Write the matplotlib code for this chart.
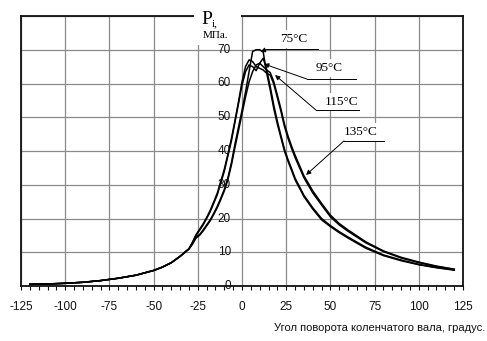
import matplotlib
matplotlib.use("Agg")
import matplotlib.pyplot as plt
from matplotlib.patches import Rectangle
from matplotlib.ticker import MultipleLocator

plt.rcParams["font.family"] = ["Liberation Sans", "DejaVu Sans"]
plt.rcParams["axes.unicode_minus"] = False

# crank angle, degrees
angle = [-120, -110, -100, -90, -80, -70, -60, -50, -45, -40, -35, -30,
         -28, -26, -24, -22, -20, -18, -16, -14, -12, -10, -8, -6, -4, -2,
         0, 2, 4, 6, 8, 10, 12, 14, 16, 18, 20, 22, 24, 26, 28, 30,
         35, 40, 45, 50, 55, 60, 70, 80, 90, 100, 110, 120]

# indicated pressure, MPa, per coolant temperature
p75 = [0.5, 0.6, 0.8, 1.1, 1.6, 2.3, 3.2, 4.6, 5.6, 6.9, 8.8, 11.0,
       12.6, 14.6, 15.2, 16.6, 18.1, 19.6, 21.5, 23.6, 26.0, 28.6, 32.0, 36.5, 42.0, 47.0,
       52.0, 57.5, 63.5, 69.5, 70.0, 70.0, 69.3, 63.0, 58.0, 52.5, 48.0, 44.0, 40.0, 37.0, 34.3, 31.5,
       26.5, 22.8, 19.6, 17.6, 15.8, 14.2, 11.2, 9.0, 7.5, 6.3, 5.4, 4.7]
p95 = [0.5, 0.6, 0.8, 1.1, 1.6, 2.3, 3.2, 4.6, 5.6, 6.9, 8.8, 11.0,
       12.8, 15.0, 16.5, 18.1, 20.0, 22.0, 24.5, 27.0, 30.5, 34.0, 38.5, 43.0, 48.5, 54.0,
       59.5, 63.5, 65.5, 65.0, 63.8, 66.0, 67.5, 64.0, 59.0, 53.5, 48.8, 44.6, 40.6, 37.5, 34.8, 32.0,
       26.9, 23.2, 20.0, 17.9, 16.1, 14.5, 11.5, 9.2, 7.7, 6.4, 5.5, 4.8]
p115 = [0.5, 0.6, 0.8, 1.1, 1.6, 2.3, 3.2, 4.6, 5.6, 6.9, 8.8, 11.0,
        12.4, 14.2, 15.0, 16.3, 17.8, 19.3, 21.2, 23.2, 25.6, 28.2, 31.5, 35.8, 41.0, 46.0,
        51.0, 56.0, 60.5, 63.5, 65.5, 66.0, 65.0, 64.0, 63.2, 60.5, 56.5, 52.5, 48.0, 44.5, 41.5, 38.8,
        32.7, 28.2, 24.5, 21.0, 18.5, 16.6, 13.1, 10.4, 8.5, 7.1, 5.9, 5.0]
p135 = [0.5, 0.6, 0.8, 1.1, 1.6, 2.3, 3.2, 4.6, 5.6, 6.9, 8.8, 11.0,
        13.0, 15.2, 16.8, 18.4, 20.3, 22.4, 24.9, 27.5, 31.0, 34.6, 39.0, 43.6, 49.0, 54.5,
        60.5, 65.0, 67.0, 66.5, 65.0, 64.5, 64.0, 63.0, 62.5, 59.8, 55.8, 51.8, 47.3, 43.8, 40.8, 38.1,
        32.1, 27.6, 24.0, 20.5, 18.1, 16.2, 12.8, 10.2, 8.3, 6.9, 5.8, 4.9]

x_ticks = [-125, -100, -75, -50, -25, 0, 25, 50, 75, 100, 125]
y_ticks = [0, 10, 20, 30, 40, 50, 60, 70]

# callouts: label, text position, underline start/end, arrow tip
labels = ["75°C", "95°C", "115°C", "135°C"]
label_xy = [(29.4, 73.2), (49.2, 64.6), (56.6, 54.5), (67.3, 45.6)]
line_from = [(43.0, 70.1), (64.5, 61.3), (66.2, 52.1), (80.3, 43.0)]
line_to = [(14.0, 70.1), (36.8, 61.3), (41.9, 52.1), (57.7, 43.0)]
tips = [(10.5, 69.4), (12.4, 65.8), (18.7, 62.5), (36.2, 32.9)]

fig = plt.figure(figsize=(4.87, 3.41), dpi=100)
ax = fig.add_axes([21 / 487, 55 / 341, 442 / 487, 270 / 341])

for p in [p75, p95, p115, p135]:
    ax.plot(angle, p, color="black", lw=1.1, zorder=5)

ax.set_xlim(-125, 125)
ax.set_ylim(0, 80)
ax.set_xticks(x_ticks)
ax.xaxis.set_minor_locator(MultipleLocator(5))
ax.set_yticks(range(0, 81, 10))
ax.tick_params(axis="y", left=False, labelleft=False)
ax.tick_params(axis="x", which="both", direction="out", length=3, width=0.8,
               pad=8, labelsize=8.5, colors="#111111")
ax.grid(True, which="major", color="#8a8a8a", lw=0.9)
ax.set_axisbelow(True)
for s in ax.spines.values():
    s.set_linewidth(1.3)
    s.set_color("#111111")

# y labels sit on the zero-angle line
for v in y_ticks:
    ax.annotate(str(v), xy=(0, v), xytext=(-8, 0), textcoords="offset points",
                ha="right", va="center", fontsize=8.5, color="#111111", zorder=6)

# white patch behind axis title, breaking the top frame
ax.add_patch(Rectangle((-27.2, 71.4), 26.6, 11.0, facecolor="white",
                       edgecolor="none", clip_on=False, zorder=3))
serif = ["Liberation Serif", "DejaVu Serif"]
ax.text(-19.8, 79.1, "P", family=serif, fontsize=14, ha="center", va="center",
        clip_on=False, zorder=6)
ax.text(-15.2, 77.6, "i,", family=serif, fontsize=8, ha="center", va="center",
        clip_on=False, zorder=6)
ax.text(-15.3, 74.1, "МПа.", family=serif, fontsize=8, ha="center", va="center",
        clip_on=False, zorder=6)

for lab, xy, a, b, tip in zip(labels, label_xy, line_from, line_to, tips):
    ax.text(xy[0], xy[1], lab, family=serif, fontsize=9.5, ha="center", va="center",
            bbox=dict(facecolor="white", edgecolor="none", pad=2.5), zorder=6)
    ax.plot([a[0], b[0]], [a[1], b[1]], color="black", lw=0.7, zorder=7)
    ax.annotate("", xy=tip, xytext=b,
                arrowprops=dict(arrowstyle="-|>", color="black", lw=0.7,
                                mutation_scale=7, shrinkA=0, shrinkB=0), zorder=7)

fig.text(0.996, 0.038, "Угол поворота коленчатого вала, градус.", ha="right",
         va="center", fontsize=8, color="#111111")

fig.savefig("out.png", dpi=100)
